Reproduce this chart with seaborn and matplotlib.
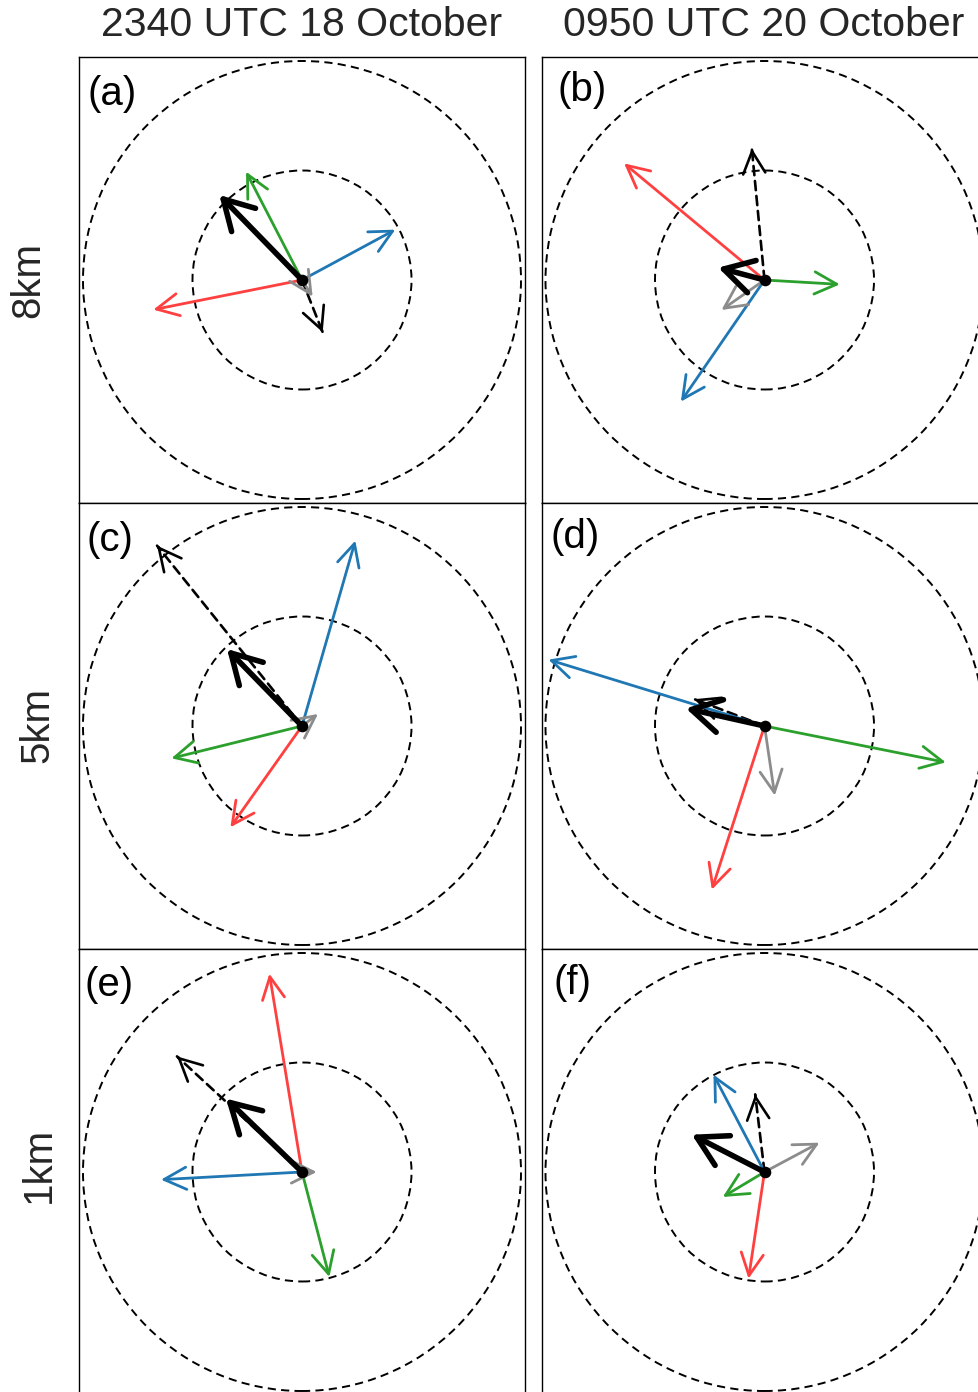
import matplotlib
matplotlib.use("Agg")
import matplotlib.pyplot as plt
from matplotlib.patches import FancyArrowPatch, Circle, ArrowStyle
import seaborn as sns
import pandas as pd

sns.set_theme(style="white")
plt.rcParams['font.family'] = ['Liberation Sans', 'DejaVu Sans']

# ---- data (units: inner dashed circle radius = 1) ----
panels = ["(a)", "(b)", "(c)", "(d)", "(e)", "(f)"]
col_titles = ["2340 UTC 18 October", "0950 UTC 20 October"]
row_labels = ["8km", "5km", "1km"]
circle_radii = [1.0, 2.0]

black_u = [-0.755, -0.423, -0.685, -0.718, -0.694, -0.664]
black_v = [0.776, 0.113, 0.703, 0.161, 0.670, 0.341]
dashed_u = [0.189, -0.116, -1.324, -0.640, -1.142, -0.085]
dashed_v = [-0.478, 1.202, 1.647, 0.245, 1.056, 0.709]
red_u = [-1.358, -1.282, -0.654, -0.481, -0.298, -0.146]
red_v = [-0.271, 1.065, -0.925, -1.495, 1.811, -0.974]
green_u = [-0.511, 0.688, -1.193, 1.656, 0.250, -0.381]
green_v = [0.989, -0.040, -0.295, -0.332, -0.959, -0.228]
blue_u = [0.852, -0.764, 0.487, -1.973, -1.288, -0.466]
blue_v = [0.460, -1.111, 1.693, 0.606, -0.070, 0.889]
gray_u = [0.097, -0.393, 0.146, 0.094, 0.134, 0.502]
gray_v = [-0.152, -0.274, 0.110, -0.636, 0.000, 0.268]

colored = [
    (red_u, red_v, "#FF4040"),
    (green_u, green_v, "#2CA02C"),
    (blue_u, blue_v, "#1F77B4"),
    (gray_u, gray_v, "#8C8C8C"),
]

W, H = 979, 1392
fig = plt.figure(figsize=(W / 100, H / 100), dpi=100)

pw = 446
lefts = [79, 541.5]
tops = [57, 503, 949]
lim = 223 / 109.5

label_pos = [(0.020, 0.917), (0.035, 0.926), (0.016, 0.917),
             (0.021, 0.924), (0.013, 0.919), (0.026, 0.924)]

thin_style = ArrowStyle("->", head_length=16, head_width=8)
thick_style = ArrowStyle("->", head_length=21, head_width=12)

for i, lab in enumerate(panels):
    r, c = divmod(i, 2)
    ax = fig.add_axes([lefts[c] / W, 1 - (tops[r] + pw) / H, pw / W, pw / H])
    ax.set_xlim(-lim, lim)
    ax.set_ylim(-lim, lim)
    ax.set_xticks([])
    ax.set_yticks([])
    for s in ax.spines.values():
        s.set_color("black")
        s.set_linewidth(1.0)

    for rad in circle_radii:
        ax.add_patch(Circle((0, 0), rad, fill=False, ec="black", lw=1.4,
                            ls=(0, (4.2, 2.7)), zorder=1))

    # dashed black arrow: dashed shaft + solid head
    du, dv = dashed_u[i], dashed_v[i]
    ax.add_patch(FancyArrowPatch((0, 0), (du, dv), arrowstyle="-", lw=1.9,
                                 color="black", ls=(0, (3.5, 2.2)),
                                 shrinkA=0, shrinkB=0, zorder=3))
    ax.add_patch(FancyArrowPatch((du * 0.99, dv * 0.99), (du, dv),
                                 arrowstyle=thin_style, mutation_scale=1,
                                 lw=1.9, color="black", shrinkA=0, shrinkB=0,
                                 zorder=3))

    for uu, vv, col in colored:
        ax.add_patch(FancyArrowPatch((0, 0), (uu[i], vv[i]),
                                     arrowstyle=thin_style, mutation_scale=1,
                                     lw=2.0, color=col, shrinkA=0, shrinkB=0,
                                     zorder=4))

    ax.add_patch(FancyArrowPatch((0, 0), (black_u[i], black_v[i]),
                                 arrowstyle=thick_style, mutation_scale=1,
                                 lw=4.0, color="black", shrinkA=0, shrinkB=0,
                                 zorder=5))

    sns.scatterplot(data=pd.DataFrame({"x": [0.0], "y": [0.0]}), x="x", y="y",
                    ax=ax, color="black", s=70, edgecolor="black",
                    linewidth=0, zorder=6, legend=False)
    ax.set_xlabel("")
    ax.set_ylabel("")

    lx, ly = label_pos[i]
    ax.text(lx, ly, lab, transform=ax.transAxes, fontsize=29,
            ha="left", va="center", color="black")

# column titles
fig.text(302 / W, 1 - 25 / H, col_titles[0], fontsize=29.5, ha="center", va="center")
fig.text(764 / W, 1 - 25 / H, col_titles[1], fontsize=29.5, ha="center", va="center")

# row labels
row_x = [28.5, 37, 39]
row_y = [280, 725, 1165]
for lab, x, y in zip(row_labels, row_x, row_y):
    fig.text(x / W, 1 - y / H, lab, fontsize=29, rotation=90,
             ha="center", va="center")

fig.savefig("out.png", dpi=100, facecolor="white")
